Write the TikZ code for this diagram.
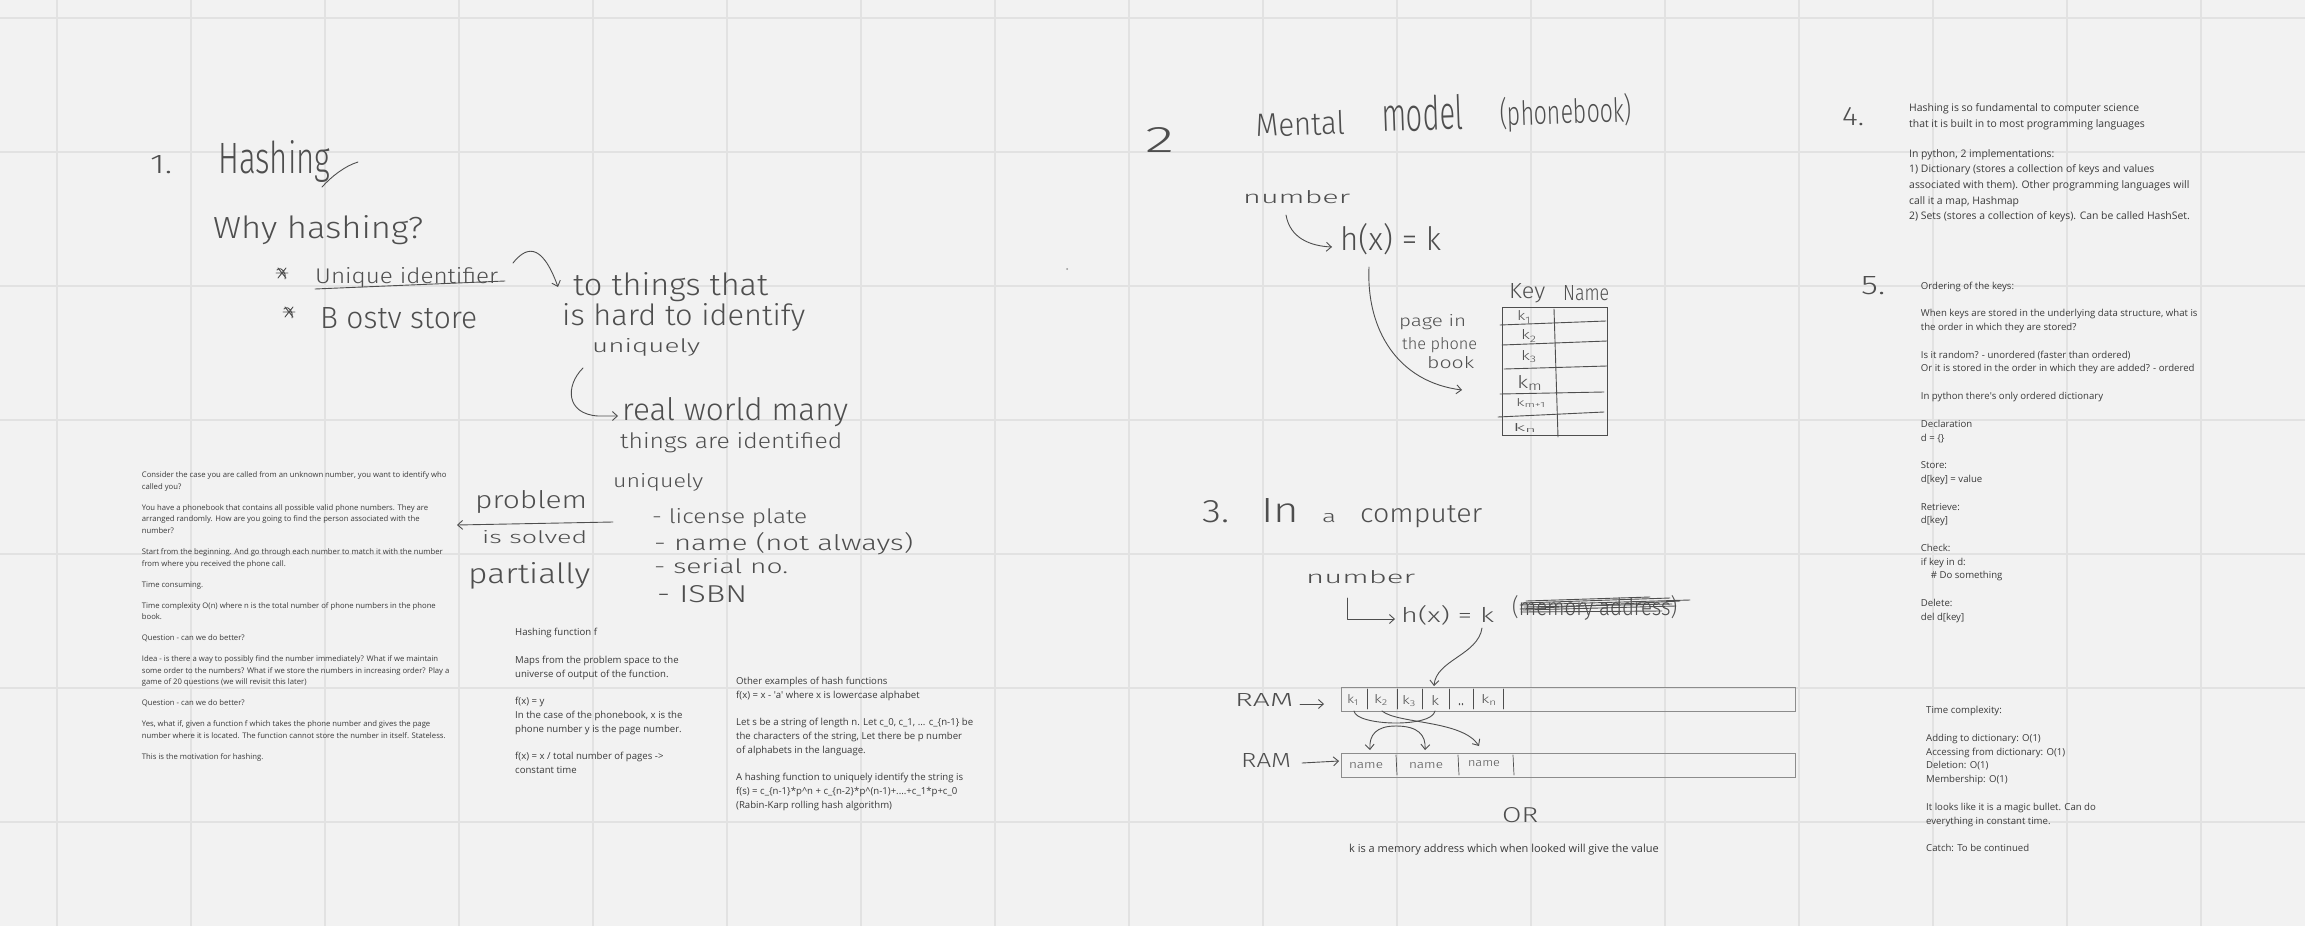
\documentclass[tikz,border=0pt]{standalone}
\usepackage{fontspec}
\usepackage{graphicx}
\usetikzlibrary{arrows.meta}
\setmainfont{Open Sans}
\IfFontExistsTF{Fira Sans Light}{\newfontfamily\penfont{Fira Sans Light}}{\newfontfamily\penfont{Latin Modern Sans}}
% handwritten word: fixed width and height above the baseline
\newcommand{\pen}[3]{\resizebox{#1pt}{#2pt}{\penfont #3}}
\definecolor{board}{HTML}{F2F2F2}
\definecolor{gridc}{HTML}{E2E2E2}
\definecolor{ink}{HTML}{3A3A3A}
\definecolor{penc}{HTML}{4E4E4E}
\definecolor{ramc}{HTML}{8C8C8C}
\tikzset{
  gridline/.style={draw=gridc, line width=1.3pt},
  typed/.style={inner sep=0pt, anchor=north west, align=left, text=ink},
  small/.style={font=\fontsize{7.7}{11.6}\selectfont},
  body/.style={font=\fontsize{9.6}{14}\selectfont},
  bodyb/.style={font=\fontsize{9.6}{13.7}\selectfont},
  large/.style={font=\fontsize{10.4}{15.6}\selectfont},
  hw/.style={inner sep=0pt, anchor=base west, text=penc},
  hwc/.style={inner sep=0pt, anchor=center, text=penc},
  stroke/.style={draw=penc, line width=0.9pt, line cap=round, line join=round},
  tip/.style={stroke, -{Straight Barb[length=5pt, width=9pt]}},
  ram/.style={draw=ramc, line width=1.3pt, inner sep=0pt, anchor=north west},
}
\begin{document}
\begin{tikzpicture}[x=1pt,y=-1pt]
\useasboundingbox (0,0) rectangle (2305,926);
\fill[board] (0,0) rectangle (2305,926);
% whiteboard grid
\foreach \i in {0,...,16} \draw[gridline] (57+134*\i,0) -- (57+134*\i,926);
\foreach \j in {0,...,6} \draw[gridline] (0,18+134*\j) -- (2305,18+134*\j);

% ---------- 1. Hashing ----------
\node[hw] (n1) at (150,173) {\pen{22}{18}{1.}};
\node[hw] (hashing) at (218,173) {\pen{112}{33}{Hashing}};
\coordinate (gt1) at (322,187); \coordinate (gt2) at (358,162);
\draw[stroke] (gt1) .. controls (332,176) and (345,166) .. (gt2);
\node[hw] (why) at (213,238) {\pen{210}{23}{Why hashing?}};
\coordinate (st1) at (282,273); \coordinate (st2) at (289,312);
\draw[stroke, shift={(st1)}] (-6,0) -- (6,0) (-4,-5) -- (4,5) (-4,5) -- (4,-5) (-5,-3) .. controls (0,-8) and (5,2) .. (3,6);
\draw[stroke, shift={(st2)}] (-6,0) -- (6,0) (-4,-5) -- (4,5) (-4,5) -- (4,-5) (-5,-3) .. controls (0,-8) and (5,2) .. (3,6);
\node[hw] (unique) at (315,283) {\pen{183}{16}{Unique identifier}};
\coordinate (ul1) at (315,289); \coordinate (ul2) at (505,281);
\draw[stroke] (ul1) -- (ul2);
\node[hw] (bostv) at (320,328) {\pen{157}{21}{B ostv store}};
\coordinate (a1s) at (513,263); \coordinate (a1e) at (558,287);
\draw[tip] (a1s) .. controls (525,248) and (541,240) .. (a1e);
\node[hw] (tothings) at (573,295) {\pen{195}{23}{to things that}};
\node[hw] (ishard) at (562,325) {\pen{243}{22}{is hard to identify}};
\node[hw] (uniq1) at (592,352) {\pen{108}{14}{uniquely}};
\coordinate (a2s) at (583,368); \coordinate (a2e) at (618,416);
\draw[tip] (a2s) .. controls (565,386) and (566,414) .. (598,416) -- (a2e);
\node[hw] (realworld) at (622,420) {\pen{226}{23}{real world many}};
\node[hw] (identified) at (620,448) {\pen{222}{16}{things are identified}};
\node[hw] (uniq2) at (613,487) {\pen{90}{14}{uniquely}};
\node[hw] (problem) at (475,508) {\pen{112}{18}{problem}};
\coordinate (a3s) at (613,522); \coordinate (a3e) at (457,525);
\draw[tip] (a3s) -- (a3e);
\node[hw] (solved) at (482,543) {\pen{105}{13}{is solved}};
\node[hw] (partially) at (468,583) {\pen{122}{21}{partially}};
\node[hw] (li1) at (652,523) {\pen{155}{15}{- license plate}};
\node[hw] (li2) at (654,550) {\pen{259}{18}{- name (not always)}};
\node[hw] (li3) at (654,573) {\pen{134}{15}{- serial no.}};
\node[hw] (li4) at (657,602) {\pen{90}{17}{- ISBN}};

% typed notes, left
\node[typed, small] (intro) at (141.7,471.5) {Consider the case you are called from an unknown number, you want to identify who\\called you?\\[9.4pt]%
You have a phonebook that contains all possible valid phone numbers. They are\\arranged randomly. How are you going to find the person associated with the\\number?\\[9.4pt]%
Start from the beginning. And go through each number to match it with the number\\from where you received the phone call.\\[9.4pt]%
Time consuming.\\[9.4pt]%
Time complexity O(n) where n is the total number of phone numbers in the phone\\book.\\[9.4pt]%
Question - can we do better?\\[9.4pt]%
Idea - is there a way to possibly find the number immediately? What if we maintain\\some order to the numbers? What if we store the numbers in increasing order? Play a\\game of 20 questions (we will revisit this later)\\[9.4pt]%
Question - can we do better?\\[9.4pt]%
Yes, what if, given a function f which takes the phone number and gives the page\\number where it is located. The function cannot store the number in itself. Stateless.\\[9.4pt]%
This is the motivation for hashing.};

\node[typed, body] (hashfn) at (515,628.3) {Hashing function f\\[13.3pt]%
Maps from the problem space to the\\universe of output of the function.\\[13.3pt]%
f(x) = y\\In the case of the phonebook, x is the\\phone number y is the page number.\\[13.3pt]%
f(x) = x / total number of pages ->\\constant time};

\node[typed, body] (examples) at (736,677.3) {Other examples of hash functions\\f(x) = x - \textquotesingle a\textquotesingle{} where x is lowercase alphabet\\[13pt]%
Let s be a string of length n. Let c\_0, c\_1, ... c\_\{n-1\} be\\the characters of the string, Let there be p number\\of alphabets in the language.\\[13pt]%
A hashing function to uniquely identify the string is\\f(s) = c\_\{n-1\}*p\textasciicircum n + c\_\{n-2\}*p\textasciicircum(n-1)+....+c\_1*p+c\_0\\(Rabin-Karp rolling hash algorithm)};

% ---------- 2. Mental model ----------
\node[hw] (n2) at (1145,152) {\pen{29}{25}{2}};
\node[hw, rotate=2] (mm1) at (1256,137) {\pen{89}{24}{Mental}};
\node[hw, rotate=2] (mm2) at (1382,132) {\pen{82}{35}{model}};
\node[hw, rotate=2] (mm3) at (1500,126) {\pen{132}{28}{(phonebook)}};
\node[hw] (number2) at (1243,203) {\pen{107}{13}{number}};
\coordinate (a4s) at (1286,215); \coordinate (a4e) at (1332,247);
\draw[tip] (a4s) .. controls (1290,238) and (1310,246) .. (a4e);
\node[hw] (hx2) at (1340,250) {\pen{101}{27}{h(x) = k}};
\coordinate (a5s) at (1369,267); \coordinate (a5e) at (1462,390);
\draw[tip] (a5s) .. controls (1366,330) and (1398,382) .. (a5e);
\node[hw] (pg1) at (1399,326) {\pen{67}{12}{page in}};
\node[hw] (pg2) at (1402,349) {\pen{75}{12}{the phone}};
\node[hw] (pg3) at (1427,368) {\pen{47}{12}{book}};
\node[hw] (key) at (1509,298) {\pen{36}{15}{Key}};
\node[hw] (name) at (1563,300) {\pen{46}{15}{Name}};
\node[draw=penc, line width=0.9pt, inner sep=0pt, anchor=north west, minimum width=105pt, minimum height=128pt] (tbl) at (1502,307) {};
\draw[stroke] (1554,309) -- (1558,437);
\draw[stroke] (1500,325) -- (1606,321);
\draw[stroke] (1502,345) -- (1607,341);
\draw[stroke] (1504,369) -- (1607,366);
\draw[stroke] (1500,394) -- (1604,392);
\draw[stroke] (1498,417) -- (1604,412);
\node[hwc] (t1) at (1524,317) {\pen{14}{10}{k\textsubscript{1}}};
\node[hwc] (t2) at (1529,336) {\pen{16}{10}{k\textsubscript{2}}};
\node[hwc] (t3) at (1529,357) {\pen{16}{10}{k\textsubscript{3}}};
\node[hwc] (t4) at (1530,383) {\pen{26}{13}{k\textsubscript{m}}};
\node[hwc] (t5) at (1531,403) {\pen{30}{8}{k\textsubscript{m+1}}};
\node[hwc] (t6) at (1525,428) {\pen{24}{8}{k\textsubscript{n}}};
\fill[penc!60] (1067,269) circle (1);

% ---------- 3. In a computer ----------
\node[hw] (n3) at (1202,522) {\pen{27}{22}{3.}};
\node[hw] (ic1) at (1261,522) {\pen{38}{24}{In}};
\node[hw] (ic2) at (1322,522) {\pen{14}{9}{a}};
\node[hw] (ic3) at (1360,522) {\pen{122}{17}{computer}};
\node[hw] (number3) at (1306,583) {\pen{109}{13}{number}};
\coordinate (a6s) at (1347,598); \coordinate (a6e) at (1395,619);
\draw[tip] (a6s) -- (1347,619) -- (a6e);
\node[hw] (hx3) at (1401,622) {\pen{93}{17}{h(x) = k}};
\node[hw] (mem) at (1512,615) {\pen{165}{20}{(memory address)}};
% scribbled out
\draw[stroke] (1520,605) -- (1690,600);
\draw[stroke] (1520,609) -- (1680,601);
\draw[stroke] (1521,612) -- (1662,611);
\draw[stroke] (1522,603) -- (1670,598);
\draw[stroke] (1524,607) -- (1672,604);
\draw[stroke] (1523,610) -- (1676,606);
\draw[stroke] (1526,601) -- (1650,597);
\coordinate (a7s) at (1482,628); \coordinate (a7e) at (1434,686);
\draw[tip] (a7s) .. controls (1478,655) and (1436,660) .. (a7e);
\node[ram, minimum width=454pt, minimum height=24pt] (ram1) at (1341,687) {};
\foreach \x in {1367,1397,1422,1449,1473,1503} \draw[stroke, line width=0.7pt] (\x,689) -- (\x,709);
\node[hwc] (r1) at (1353,700) {\pen{12}{9}{k\textsubscript{1}}};
\node[hwc] (r2) at (1381,700) {\pen{14}{9}{k\textsubscript{2}}};
\node[hwc] (r3) at (1409,701) {\pen{14}{9}{k\textsubscript{3}}};
\node[hwc] (r4) at (1435,700) {\pen{8}{10}{k}};
\node[hwc] (r5) at (1461,705) {\pen{6}{2}{..}};
\node[hwc] (r6) at (1489,700) {\pen{16}{9}{k\textsubscript{n}}};
\node[hw] (ramA) at (1235,706) {\pen{58}{13}{RAM}};
\coordinate (a8s) at (1300,704); \coordinate (a8e) at (1324,704);
\draw[tip] (a8s) -- (a8e);
\node[ram, minimum width=454pt, minimum height=24pt] (ram2) at (1341,753) {};
\foreach \x in {1396,1458,1513} \draw[stroke, line width=0.7pt] (\x,755) -- (\x+1,775);
\node[hwc] (m1) at (1366,766) {\pen{34}{6}{name}};
\node[hwc] (m2) at (1426,766) {\pen{34}{6}{name}};
\node[hwc] (m3) at (1484,764) {\pen{32}{6}{name}};
\node[hw] (ramB) at (1241,767) {\pen{50}{14}{RAM}};
\coordinate (a9s) at (1302,763); \coordinate (a9e) at (1339,761);
\draw[tip] (a9s) -- (a9e);
% links between the two memory rows
\coordinate (l1) at (1354,711); \coordinate (l2) at (1435,711);
\draw[stroke] (l1) .. controls (1356,726) and (1432,728) .. (l2);
\coordinate (lf) at (1396,726);
\coordinate (lm1) at (1370,750); \coordinate (lm2) at (1425,750);
\draw[tip] (lf) .. controls (1376,726) and (1369,735) .. (lm1);
\draw[tip] (lf) .. controls (1418,726) and (1426,735) .. (lm2);
\coordinate (l3s) at (1382,711); \coordinate (l3e) at (1479,746);
\draw[tip] (l3s) .. controls (1398,724) and (1462,720) .. (l3e);
\node[hw] (or) at (1502,822) {\pen{36}{15}{OR}};
\node[inner sep=0pt, anchor=base, text=ink, font=\fontsize{11}{14}\selectfont] (kaddr) at (1504,852.5) {k is a memory address which when looked will give the value};

% ---------- 4. and 5. ----------
\node[hw] (n4) at (1842,125) {\pen{22}{18}{4.}};
\node[hw] (n5) at (1861,294) {\pen{24}{18}{5.}};
\node[typed, large] (builtin) at (1909,103.5) {Hashing is so fundamental to computer science\\that it is built in to most programming languages\\[14.4pt]%
In python, 2 implementations:\\1) Dictionary (stores a collection of keys and values\\associated with them). Other programming languages will\\call it a map, Hashmap\\2) Sets (stores a collection of keys). Can be called HashSet.};

\node[typed, bodyb] (ordering) at (1920.7,281.6) {Ordering of the keys:\\[14pt]%
When keys are stored in the underlying data structure, what is\\the order in which they are stored?\\[14pt]%
Is it random? - unordered (faster than ordered)\\Or it is stored in the order in which they are added? - ordered\\[14pt]%
In python there\textquotesingle s only ordered dictionary\\[14pt]%
Declaration\\d = \{\}\\[14pt]%
Store:\\d[key] = value\\[14pt]%
Retrieve:\\d[key]\\[14pt]%
Check:\\if key in d:\\\hspace*{10pt}\# Do something\\[14pt]%
Delete:\\del d[key]};

\node[typed, bodyb] (complexity) at (1926,706.3) {Time complexity:\\[14pt]%
Adding to dictionary: O(1)\\Accessing from dictionary: O(1)\\Deletion: O(1)\\Membership: O(1)\\[14pt]%
It looks like it is a magic bullet. Can do\\everything in constant time.\\[14pt]%
Catch: To be continued};
\end{tikzpicture}
\end{document}
